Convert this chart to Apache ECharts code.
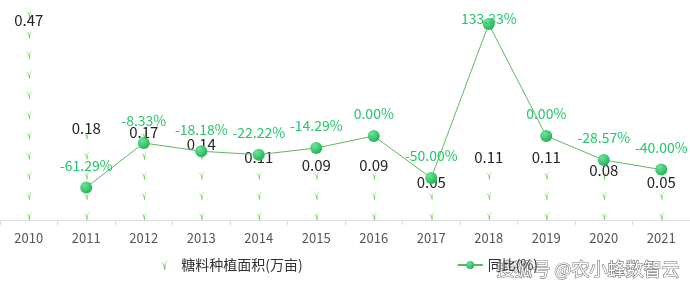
<!DOCTYPE html>
<html><head><meta charset="utf-8">
<script src="https://cdn.jsdelivr.net/npm/echarts@6/dist/echarts.min.js"></script>
<style>html,body{margin:0;padding:0;background:#fff}#c{width:690px;height:284px}</style>
</head><body><div id="c"></div>
<script>
const years = ['2010','2011','2012','2013','2014','2015','2016','2017','2018','2019','2020','2021'];
const areaValues = [0.47,0.18,0.17,0.14,0.11,0.09,0.09,0.05,0.11,0.11,0.08,0.05];
const yoyValues = [null,-61.29,-8.33,-18.18,-22.22,-14.29,0.00,-50.00,133.33,0.00,-28.57,-40.00];
const seriesNames = ['糖料种植面积(万亩)','同比(%)'];

const leaf = 'path://M0,1.5 C1.8,2.2 3,4 3.4,8 L4.3,8 C4.3,4.5 4.7,2 6,0 L5.2,0 C4.4,1.6 3.9,3 3.8,4.6 C3.2,2.6 2,1.6 0,1.5 Z';
const chart = echarts.init(document.getElementById('c'));
const font = '"Noto Sans CJK SC", "Noto Sans", sans-serif';
const maxA = Math.max(...areaValues);
const maxY = Math.max(...yoyValues.filter(v=>v!==null));
chart.setOption({
  animation:false,
  textStyle:{fontFamily:font},
  grid:{left:0,right:0,top:10,bottom:64},
  legend:{
    bottom:7, left:155, itemGap:154,
    textStyle:{color:'#333',fontSize:14,fontFamily:font},
    data:[{name:seriesNames[0],icon:leaf},{name:seriesNames[1]}],
    itemWidth:25,itemHeight:10
  },
  xAxis:{type:'category',data:years,
    axisLine:{lineStyle:{color:'#ddd'}},
    axisTick:{show:true,lineStyle:{color:'#ddd'}},
    axisLabel:{color:'#555',fontSize:13,margin:12,fontFamily:font}},
  yAxis:[
    {type:'value',min:0,max:0.5,show:false,splitLine:{show:false}},
    {type:'value',min:-100,max:150,show:false,splitLine:{show:false}}
  ],
  series:[
    {name:seriesNames[0],type:'pictorialBar',yAxisIndex:0,
      symbol:leaf,symbolRepeat:true,symbolSize:[6,8],symbolMargin:7,
      symbolPosition:'start',
      itemStyle:{color:new echarts.graphic.LinearGradient(0,0,0,1,[{offset:0,color:'#bdeeaa'},{offset:1,color:'#5ec84a'}])},
      data:areaValues
    },
    {name:'labels',type:'bar',yAxisIndex:0,barGap:'-100%',barWidth:20,
      itemStyle:{color:'rgba(0,0,0,0)'},silent:true,
      label:{show:true,position:'top',distance:9,color:'#222',fontSize:15,fontFamily:font},
      data:areaValues.map(v=> v===maxA ? {value:v,label:{offset:[0,14]}} : v)
    },
    {name:seriesNames[1],type:'line',yAxisIndex:1,
      symbol:'circle',symbolSize:12,showSymbol:true,connectNulls:false,
      lineStyle:{color:'#5cb85c',width:1},
      itemStyle:{color:new echarts.graphic.RadialGradient(0.35,0.3,0.8,[{offset:0,color:'#6fe39a'},{offset:1,color:'#17b04e'}])},
      label:{show:true,position:'top',distance:9,color:'#22c76a',fontSize:14,fontFamily:font,
        formatter:p=>p.value.toFixed(2)+'%'},
      data:yoyValues.map(v=> v===maxY ? {value:v,label:{offset:[0,17]}} : v),
      z:5
    }
  ],
  graphic:[{type:'text',right:10,bottom:5,
    style:{text:'搜狐号 @农小蜂数智云',fontSize:18,fontFamily:font,fill:'#fff',stroke:'#777',lineWidth:1.2}}]
});
</script></body></html>
